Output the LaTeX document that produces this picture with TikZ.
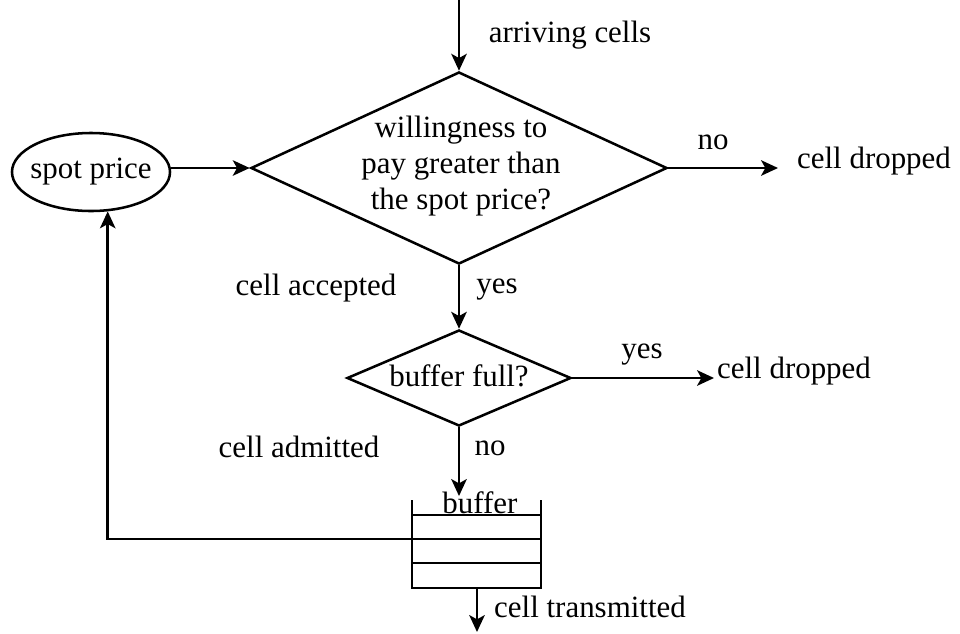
\documentclass[tikz,border=0pt]{standalone}
\usepackage{fontspec}
\setmainfont{Liberation Serif}
\usetikzlibrary{shapes.geometric,arrows.meta}
\tikzset{
    arr/.style={-{Stealth[length=12pt,width=11pt,inset=3pt]}},
    lbl/.style={inner sep=0pt},
    decision/.style={draw, diamond, inner sep=0pt, align=center}
}
\begin{document}
\begin{tikzpicture}[x=0.025cm, y=-0.025cm, line width=1.8pt,
        every node/.style={font=\fontsize{22}{25.6}\selectfont}]
    \useasboundingbox (0, 0) rectangle (960, 633);

    % incoming cells and first test
    \coordinate (in) at (459, 0);
    \node[lbl] (arriving) at (570, 35) {arriving cells};
    \node[decision, minimum width=10.4cm, minimum height=4.8cm, aspect=2.17] (wtp) at (459, 168) {};
    \node[lbl, align=center] (wtptext) at (461, 166)
        {willingness to\\pay greater than\\the spot price?};
    \draw[arr] (in) -- (wtp.north);

    \node[lbl] (no1) at (713, 142) {no};
    \coordinate (drop1end) at (778, 168);
    \node[lbl] (drop1) at (874, 161) {cell dropped};
    \draw[arr] (wtp.east) -- (drop1end);

    % spot price
    \node[draw, ellipse, minimum width=3.95cm, minimum height=1.95cm, inner xsep=-8pt, inner ysep=0pt] (spot) at (91, 172) {spot price};
    \draw[arr] (spot.east |- wtp.west) -- (wtp.west);

    % second test
    \node[decision, minimum width=5.6cm, minimum height=2.4cm, aspect=2.35] (full) at (459, 378) {};
    \node[lbl] (fulltext) at (459, 376) {buffer full?};
    \node[lbl] (accepted) at (316, 288) {cell accepted};
    \node[lbl] (yes1) at (497, 290) {yes};
    \draw[arr] (wtp.south) -- (full.north);

    \node[lbl] (yes2) at (642, 355) {yes};
    \coordinate (drop2end) at (714, 378);
    \node[lbl] (drop2) at (794, 371) {cell dropped};
    \draw[arr] (full.east) -- (drop2end);

    \node[lbl] (admitted) at (299, 447) {cell admitted};
    \node[lbl] (no2) at (490, 448) {no};

    % buffer
    \draw (412, 500) -- (412, 588) -- (541, 588) -- (541, 500);
    \foreach \y in {515, 539, 563} {
        \draw (412, \y) -- (541, \y);
    }
    \node[lbl] (buffer) at (480, 503) {buffer};
    \coordinate (btop) at (459, 496);
    \draw[arr] (full.south) -- (btop);

    % transmitted cells
    \coordinate (bout) at (477, 588);
    \coordinate (out) at (477, 632);
    \node[lbl] (transmitted) at (590, 607) {cell transmitted};
    \draw[arr] (bout) -- (out);

    % feedback to the spot price
    \coordinate (fb) at (412, 539);
    \draw[arr] (fb) -| (spot.-67);
\end{tikzpicture}
\end{document}
